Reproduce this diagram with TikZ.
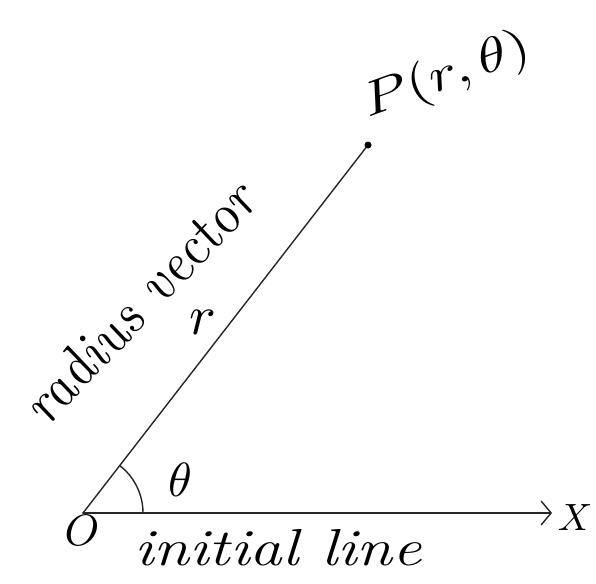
\documentclass[tikz,border=0pt]{standalone}
\usetikzlibrary{arrows.meta}
\begin{document}
\begin{tikzpicture}[x=1pt,y=-1pt,
  ink/.style={line width=1.4pt,line cap=round,line join=round,black!85},
  hand/.style={font=\fontsize{52}{56}\selectfont\itshape,inner sep=0pt,xscale=#1},
  hand/.default=1.2,
  handmath/.style={inner sep=0pt,scale=#1},
  handmath/.default=4.4]
\useasboundingbox (0,0) rectangle (596,583);
\coordinate (O) at (83,513);
\coordinate (P) at (368,145);
\coordinate (Xend) at (552,513);
\draw[ink] (O) -- (P);
\draw[ink,-{Straight Barb[length=10pt,width=24pt]}] (O) -- (Xend);
\fill[black] (P) circle (3.5pt);
\draw[ink] ([shift={(0:60)}]O) arc[start angle=0,end angle=-52,radius=60];
\node[handmath] (Olab) at (82,530) {$O$};
\node[handmath=3.8] (Xlab) at (575,518) {$X$};
\node[handmath=4.8] (th) at (180,480) {$\theta$};
\node[handmath=5.6] (rlab) at (203,322) {$r$};
\node[handmath=4.8,rotate=20,xscale=1.25] (Plab) at (447,76) {$P(r,\theta)$};
\node[hand=1.22,rotate=52] (rv) at (138,303) {radius vector};
\node[hand=1.25] (il) at (278,548) {initial line};
\end{tikzpicture}
\end{document}
